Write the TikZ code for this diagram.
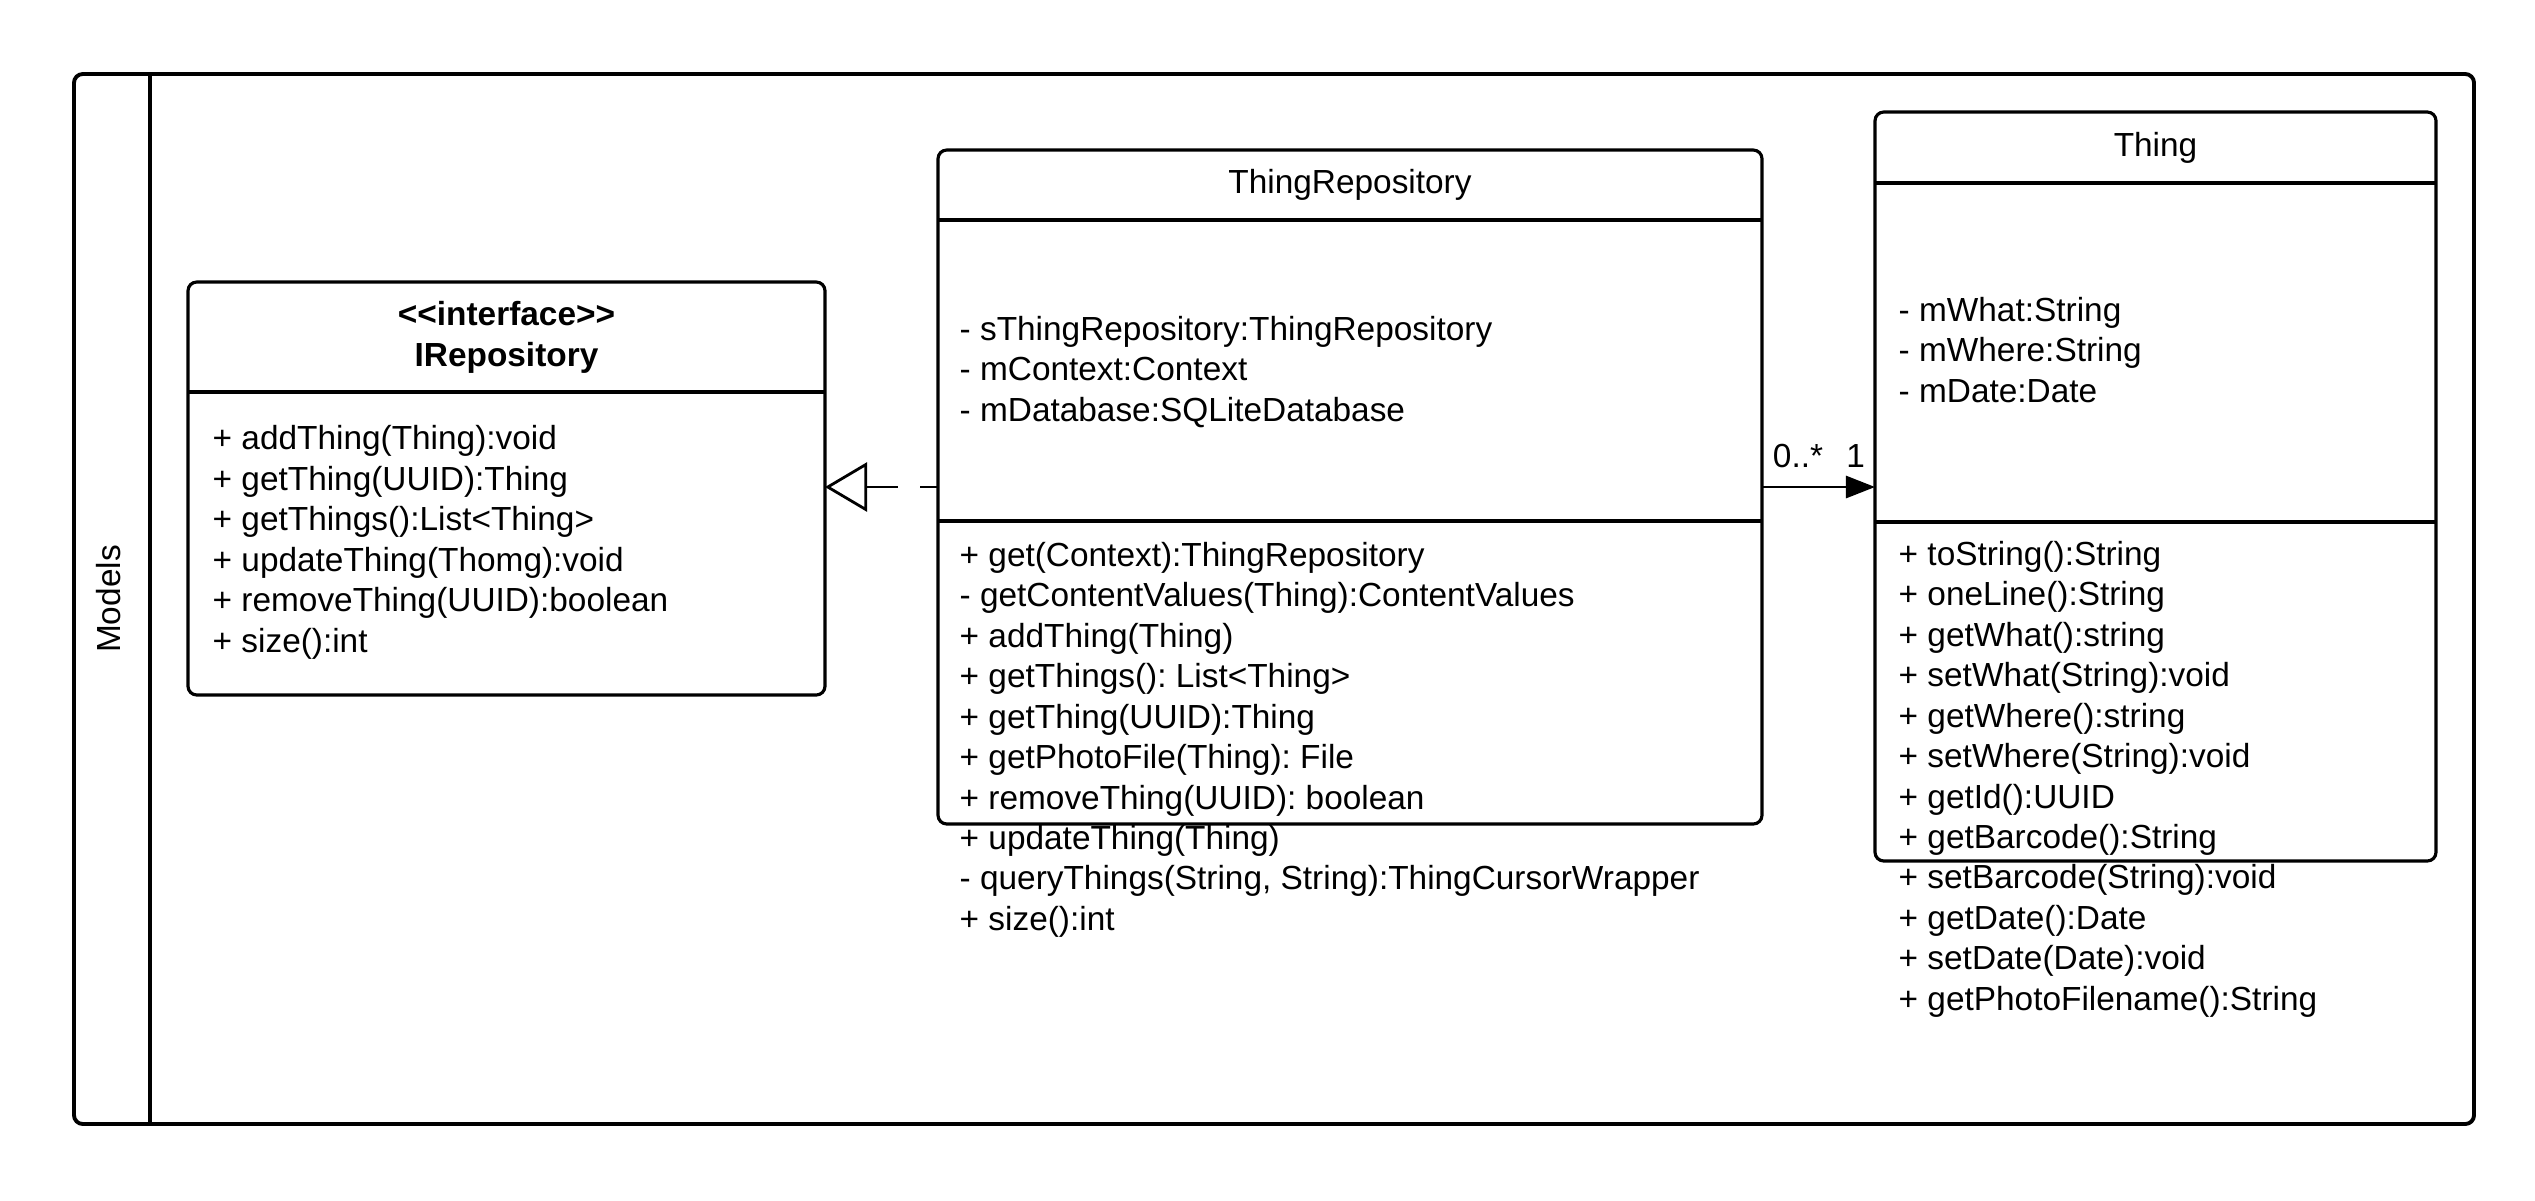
\documentclass[tikz,border=0pt]{standalone}
\usepackage{fontspec}
\setmainfont{Liberation Sans}
\usetikzlibrary{arrows.meta}
\frenchspacing

\begin{document}
\begin{tikzpicture}[
  classbox/.style={draw, line width=0.9pt, rounded corners=2.5pt, outer sep=0pt, inner sep=0pt},
  divider/.style={line width=0.9pt},
  members/.style={anchor=north west, align=left, inner sep=0pt, font=\fontsize{9.5}{11.5}\selectfont},
  title/.style={align=center, inner sep=0pt, font=\fontsize{9.5}{11.8}\selectfont},
  mult/.style={inner sep=0pt, font=\fontsize{9.5}{11.5}\selectfont},
  realize/.style={line width=0.8pt, dash pattern=on 9pt off 6.3pt, arrows={Triangle[open, length=12pt, width=14pt]-}},
  assoc/.style={line width=0.8pt, arrows={-Triangle[length=8.3pt, width=6.3pt]}}]
\useasboundingbox (0,0) rectangle (25.35,-12);
\node[classbox, line width=1.1pt, minimum width=24cm, minimum height=10.5cm] (models) at (12.74,-5.99) {};
\coordinate (lane) at (1.50,0);
\draw [line width=1.1pt] (lane |- models.north) -- (lane |- models.south);
\node[mult, rotate=90] (models-label) at (1.085,-5.99) {Models};

\node[classbox, minimum width=6.37cm, minimum height=4.13cm] (irepo) at (5.065,-4.885) {};
\draw [divider] (irepo.west |- 0,-3.92) -- (irepo.east |- 0,-3.92);
\node[title, font=\bfseries\fontsize{9.5}{11.8}\selectfont] (irepo-name) at (irepo.center |- 0,-3.375) {<{}<interface>{}>\\IRepository};
\node[members] (irepo-ops) at (2.12,-4.25) {+ addThing(Thing):void\\+ getThing(UUID):Thing\\+ getThings():List<Thing>\\+ updateThing(Thomg):void\\+ removeThing(UUID):boolean\\+ size():int};

\node[classbox, minimum width=8.24cm, minimum height=6.74cm] (trepo) at (13.50,-4.87) {};
\draw [divider] (trepo.west |- 0,-2.20) -- (trepo.east |- 0,-2.20);
\draw [divider] (trepo.west |- 0,-5.21) -- (trepo.east |- 0,-5.21);
\node[title] (trepo-name) at (trepo.center |- 0,-1.85) {ThingRepository};
\node[members] (trepo-attrs) at (9.59,-3.156) {- sThingRepository:ThingRepository\\- mContext:Context\\- mDatabase:SQLiteDatabase};
\node[members] (trepo-ops) at (9.59,-5.416) {+ get(Context):ThingRepository\\- getContentValues(Thing):ContentValues\\+ addThing(Thing)\\+ getThings(): List<Thing>\\+ getThing(UUID):Thing\\+ getPhotoFile(Thing): File\\+ removeThing(UUID): boolean\\+ updateThing(Thing)\\- queryThings(String, String):ThingCursorWrapper\\+ size():int};

\node[classbox, minimum width=5.61cm, minimum height=7.49cm] (thing) at (21.555,-4.865) {};
\draw [divider] (thing.west |- 0,-1.83) -- (thing.east |- 0,-1.83);
\draw [divider] (thing.west |- 0,-5.22) -- (thing.east |- 0,-5.22);
\node[title] (thing-name) at (thing.center |- 0,-1.475) {Thing};
\node[members] (thing-attrs) at (18.98,-2.966) {- mWhat:String\\- mWhere:String\\- mDate:Date};
\node[members] (thing-ops) at (18.98,-5.406) {+ toString():String\\+ oneLine():String\\+ getWhat():string\\+ setWhat(String):void\\+ getWhere():string\\+ setWhere(String):void\\+ getId():UUID\\+ getBarcode():String\\+ setBarcode(String):void\\+ getDate():Date\\+ setDate(Date):void\\+ getPhotoFilename():String};

\draw [realize] (irepo.east |- trepo.west) -- (trepo.west);
\draw [assoc] (trepo.east) -- (trepo.east -| thing.west);
\node[mult] (many) at (17.98,-4.56) {0..*};
\node[mult] (one) at (18.556,-4.56) {1};
\end{tikzpicture}
\end{document}
